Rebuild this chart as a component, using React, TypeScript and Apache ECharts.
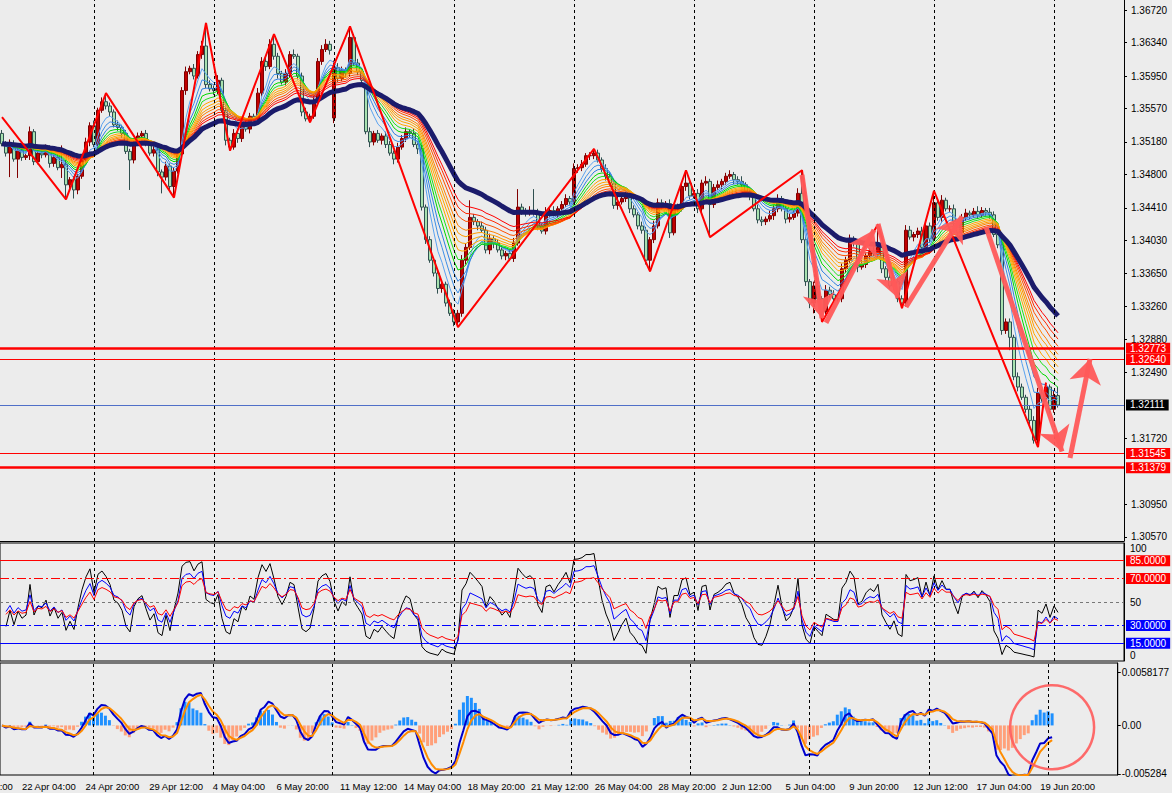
import React, { useEffect, useRef } from 'react';
import * as echarts from 'echarts';

// ---------- DATA (prices in pips above 1.30000) ----------
const BASE = 1.3;
const FIRST_OPEN = 528;
const closes = [
  516, 505, 516, 498, 508, 500, 502, 530, 495, 505, 503, 510, 493, 500, 488, 492, 468, 474, 462, 478,
  497, 518, 537, 515, 555, 565, 560, 553, 538, 535, 528, 507, 497, 517, 525, 528, 517, 505, 509, 483,
  477, 490, 466, 484, 504, 578, 600, 604, 595, 620, 630, 585, 580, 578, 590, 555, 520, 512, 528, 522,
  538, 533, 548, 545, 575, 612, 606, 632, 618, 598, 588, 598, 620, 618, 595, 553, 545, 548, 566, 612,
  626, 632, 625, 605, 592, 602, 598, 640, 610, 600, 590, 530, 518, 528, 520, 525, 515, 505, 498, 512,
  522, 530, 528, 515, 510, 442, 404, 380, 365, 347, 352, 330, 318, 308, 318, 380, 395, 430, 425, 420,
  415, 392, 405, 400, 392, 385, 388, 382, 400, 442, 438, 435, 438, 436, 420, 414, 436, 438, 434, 440,
  445, 452, 448, 487, 488, 492, 502, 502, 505, 497, 487, 478, 470, 444, 448, 452, 455, 440, 433, 420,
  415, 380, 404, 420, 447, 444, 446, 412, 440, 440, 466, 470, 455, 458, 440, 470, 472, 445, 465, 468,
  472, 478, 480, 474, 472, 468, 460, 455, 440, 427, 425, 428, 432, 440, 452, 440, 428, 430, 435, 458,
  404, 355, 330, 350, 335, 320, 345, 340, 335, 335, 370, 380, 405, 400, 372, 375, 385, 390, 388, 395,
  370, 360, 350, 355, 335, 330, 415, 407, 410, 414, 395, 420, 405, 447, 430, 450, 440, 440, 425, 412,
  430, 435, 433, 437, 433, 438, 436, 433, 410, 398, 298, 308, 290, 244, 232, 220, 206, 193, 170, 225,
  218, 232, 206, 222, 211,
];
const wickUp = [
  4, 3, 5, 4, 3, 4, 2, 6, 3, 4, 3, 5, 4, 3, 4, 22, 5, 3, 4, 3,
  4, 5, 4, 6, 3, 5, 10, 4, 3, 5, 3, 4, 3, 5, 4, 3, 4, 3, 5, 4,
  3, 5, 3, 4, 5, 4, 6, 3, 5, 4, 6, 27, 5, 4, 6, 3, 4, 3, 5, 4,
  3, 5, 4, 3, 6, 5, 4, 6, 12, 4, 3, 5, 4, 6, 3, 4, 5, 3, 6, 4,
  5, 6, 4, 8, 5, 4, 3, 13, 4, 5, 3, 4, 5, 3, 4, 3, 5, 4, 3, 5,
  4, 5, 3, 6, 4, 5, 3, 4, 3, 5, 4, 3, 4, 5, 4, 6, 5, 20, 4, 3,
  5, 4, 6, 3, 4, 5, 3, 4, 6, 21, 4, 3, 5, 25, 4, 3, 6, 4, 5, 3,
  4, 5, 3, 6, 4, 5, 3, 4, 5, 4, 3, 5, 4, 3, 6, 4, 5, 3, 4, 3,
  5, 4, 3, 6, 5, 4, 3, 5, 4, 6, 5, 15, 4, 3, 5, 4, 6, 3, 4, 5,
  3, 4, 5, 3, 4, 6, 3, 4, 3, 5, 4, 3, 6, 4, 5, 3, 4, 5, 3, 6,
  27, 4, 3, 5, 4, 3, 6, 4, 5, 3, 6, 4, 5, 3, 4, 5, 3, 4, 6, 27,
  4, 3, 5, 4, 3, 4, 6, 5, 3, 4, 5, 6, 4, 14, 5, 6, 3, 4, 5, 3,
  4, 5, 3, 4, 6, 4, 3, 5, 4, 3, 5, 4, 4, 3, 5, 4, 3, 4, 5, 6,
  4, 5, 3, 6, 10,
];
const wickDn = [
  3, 4, 28, 3, 22, 4, 3, 5, 4, 3, 4, 3, 5, 4, 3, 12, 17, 4, 10, 5,
  3, 4, 5, 3, 4, 3, 4, 5, 3, 4, 5, 3, 35, 4, 3, 5, 4, 3, 4, 5,
  19, 4, 5, 13, 3, 4, 5, 3, 4, 3, 5, 4, 3, 5, 4, 3, 6, 4, 3, 5,
  4, 3, 5, 4, 3, 4, 5, 3, 4, 6, 3, 4, 5, 3, 4, 5, 3, 4, 3, 5,
  4, 3, 5, 6, 4, 3, 5, 4, 3, 4, 5, 3, 6, 4, 3, 5, 4, 3, 6, 4,
  3, 4, 5, 3, 6, 4, 5, 3, 4, 6, 5, 4, 3, 5, 6, 4, 5, 3, 4, 5,
  3, 4, 5, 6, 3, 4, 5, 3, 4, 3, 5, 4, 3, 4, 5, 3, 4, 6, 3, 4,
  5, 3, 4, 3, 5, 4, 3, 5, 4, 3, 4, 5, 3, 4, 5, 3, 4, 5, 3, 4,
  4, 5, 13, 4, 3, 5, 4, 6, 3, 4, 3, 5, 4, 3, 5, 4, 3, 38, 4, 3,
  5, 4, 3, 5, 4, 3, 4, 5, 3, 4, 5, 4, 3, 5, 4, 3, 5, 4, 3, 4,
  4, 5, 6, 12, 4, 12, 3, 4, 5, 3, 4, 5, 3, 4, 6, 3, 4, 5, 3, 4,
  5, 4, 3, 5, 4, 6, 4, 3, 5, 4, 3, 4, 5, 3, 4, 5, 3, 4, 5, 4,
  3, 4, 5, 3, 4, 3, 4, 5, 3, 4, 5, 4, 15, 4, 5, 3, 4, 5, 4, 8,
  4, 3, 5, 4, 3,
];
const gapOpens: Record<number, number> = { 83: 546 };

const zigzag: [number, number][] = [
  [0, 547], [16, 451], [26, 575], [43, 453], [51, 657], [57, 508], [68, 644], [77, 541],
  [87, 653], [114, 302], [148, 510], [162, 367], [171, 485], [177, 407], [200, 485],
  [205, 308], [219, 422], [225, 324], [233, 461], [259, 162], [261, 237],
];

const arrows: [number, number][][] = [
  [[200, 1.34795], [205, 1.33125]],
  [[206, 1.3307], [218, 1.34153]],
  [[219, 1.34223], [224, 1.33359]],
  [[226, 1.33254], [240, 1.3431]],
  [[246, 1.34188], [265, 1.31568]],
  [[267, 1.31492], [272, 1.32647]],
];

const levelPrices = [1.32773, 1.3264, 1.32111, 1.31545, 1.31379];
const levelColors = ['#ff0000', '#ff0000', '#4f6fc8', '#ff0000', '#ff0000'];
const levelWidths = [2.5, 1, 1, 1, 2.5];
const levelBoxColors = ['#ff0000', '#ff0000', '#000000', '#ff0000', '#ff0000'];

const priceTicks = [
  1.3672, 1.3634, 1.3595, 1.3557, 1.3518, 1.348, 1.3441, 1.3403, 1.3365,
  1.3326, 1.3288, 1.3249, 1.3172, 1.3095, 1.3057,
];
const timeLabels = [
  '22 Apr 04:00', '24 Apr 20:00', '29 Apr 12:00', '4 May 04:00', '6 May 20:00', '11 May 12:00',
  '14 May 04:00', '18 May 20:00', '21 May 12:00', '26 May 04:00', '28 May 20:00', '2 Jun 12:00',
  '5 Jun 04:00', '9 Jun 20:00', '12 Jun 12:00', '17 Jun 04:00', '19 Jun 20:00',
];
const timeLabelBars = [5, 21, 37, 53, 69, 85, 101, 117, 133, 149, 165, 181, 197, 213, 229, 245, 261];
const separatorBars = [23, 53, 83, 113, 143, 173, 203, 233, 263];
const TOTAL_BARS = 281;

const ribbonPeriods = [5, 7, 9, 11, 13, 15, 17, 19, 21, 24, 27, 30];
const ribbonColors = [
  '#5aa2f0', '#3d8ee6', '#2f80e0', '#00d800', '#1ee01e', '#ffa500',
  '#ffa500', '#ff9a00', '#ff8000', '#ff5000', '#ff2800', '#ff0000',
];
const SLOW_MA = 40;
const rsiPeriods = [5, 9, 14];
const rsiColors = ['#000000', '#0000ff', '#ff0000'];
const macdFast = 4, macdSlow = 10, macdSignalLine = 3, macdHistBase = 9;

// ---------- helpers ----------
const FONT = 'Liberation Sans, Arial, sans-serif';
const px = (p: number) => +(BASE + p / 10000).toFixed(5);

function ema(src: number[], n: number) {
  const a = 2 / (n + 1);
  const out: number[] = [];
  let e = src[0];
  src.forEach((v, i) => {
    e = i === 0 ? v : e + a * (v - e);
    out.push(e);
  });
  return out;
}
function rsi(src: number[], n: number) {
  // Wilder RSI, primed with the mean gain/loss of the first n changes
  let ag = 0, al = 0;
  for (let i = 1; i <= n; i++) {
    const d = src[i] - src[i - 1];
    if (d > 0) ag += d; else al -= d;
  }
  ag /= n; al /= n;
  const out: (number | null)[] = [null];
  for (let i = 1; i < src.length; i++) {
    const d = src[i] - src[i - 1];
    const g = d > 0 ? d : 0, l = d < 0 ? -d : 0;
    ag = (ag * (n - 1) + g) / n;
    al = (al * (n - 1) + l) / n;
    out.push(al === 0 ? 100 : 100 - 100 / (1 + ag / al));
  }
  return out;
}

function buildOption() {
  const opens = closes.map((c, i) => (i === 0 ? FIRST_OPEN : gapOpens[i] ?? closes[i - 1]));
  const candles = closes.map((c, i) => {
    const o = opens[i];
    return [px(o), px(c), px(Math.min(o, c) - (wickDn[i] ?? 0)), px(Math.max(o, c) + (wickUp[i] ?? 0))];
  });
  const closePrices = closes.map(px);
  const categories = Array.from({ length: TOTAL_BARS }, (_, i) => {
    const k = timeLabelBars.indexOf(i);
    return k >= 0 ? timeLabels[k] : String(i);
  });

  const e1 = ema(closePrices, macdFast);
  const e2 = ema(closePrices, macdSlow);
  const macd = e1.map((v, i) => v - e2[i]);
  const sig = ema(macd, macdSignalLine);
  const base = ema(macd, macdHistBase);
  const hist = macd.map((v, i) => v - base[i]);

  const sepItems = () =>
    separatorBars.map((b) => ({ xAxis: b, label: { show: false }, lineStyle: { color: '#000', type: [3, 3], width: 1 } }));

  const grids = [
    { left: 0, right: 48, top: 0, height: 541 },
    { left: 0, right: 48, top: 543, height: 118, show: true, borderColor: '#000', borderWidth: 1, backgroundColor: 'transparent' },
    { left: 0, right: 48, top: 663, height: 112, show: true, borderColor: '#000', borderWidth: 1, backgroundColor: 'transparent' },
  ];

  const xAxes = [0, 1, 2].map((g) => ({
    type: 'category',
    gridIndex: g,
    data: categories,
    boundaryGap: true,
    axisLine: { show: g === 0, lineStyle: { color: '#000', width: 1 } },
    axisTick: { show: false },
    splitLine: { show: false },
    axisLabel: g === 2
      ? {
          show: true,
          interval: (i: number) => timeLabelBars.indexOf(i) >= 0,
          align: 'left',
          margin: 6,
          fontSize: 9.5,
          fontFamily: FONT,
          color: '#000',
        }
      : { show: false },
  }));

  const labelBase = { fontSize: 10, fontFamily: FONT, color: '#000' };
  const yAxes = [
    {
      type: 'value', gridIndex: 0, position: 'right', min: 1.30523, max: 1.36837,
      axisLine: { show: true, lineStyle: { color: '#000' } },
      axisTick: { show: true, length: 3, customValues: priceTicks, lineStyle: { color: '#000' } },
      splitLine: { show: false },
      axisLabel: { ...labelBase, margin: 7, customValues: priceTicks, formatter: (v: number) => v.toFixed(5) },
    },
    {
      type: 'value', gridIndex: 1, position: 'right', min: 0, max: 100,
      axisLine: { show: true, lineStyle: { color: '#000' } },
      axisTick: { show: false },
      splitLine: { show: false },
      axisLabel: {
        ...labelBase, margin: 6, customValues: [0, 50, 100],
        formatter: (v: number) => (v === 100 ? '{t|100}' : v === 0 ? '{b|0}' : '{m|50}'),
        rich: {
          t: { ...labelBase, padding: [11, 0, 0, 0] },
          b: { ...labelBase, padding: [0, 0, 12, 0] },
          m: { ...labelBase },
        },
      },
    },
    {
      type: 'value', gridIndex: 2, position: 'right', min: -0.0054, max: 0.0068,
      axisLine: { show: true, lineStyle: { color: '#000' } },
      axisTick: { show: true, length: 3, customValues: [-0.005284, 0, 0.0058177], lineStyle: { color: '#000' } },
      splitLine: { show: false },
      axisLabel: {
        ...labelBase, margin: 4, customValues: [-0.005284, 0, 0.0058177],
        formatter: (v: number) => (v === 0 ? '0.00' : String(v)),
      },
    },
  ];

  const boxLabel = (text: string, bg: string) => ({
    show: true, position: 'end', formatter: text, color: '#fff', backgroundColor: bg,
    padding: [1, 4, 0, 4], fontSize: 10, fontFamily: FONT, distance: 2,
  });

  const series: any[] = [];
  series.push({
    type: 'candlestick', xAxisIndex: 0, yAxisIndex: 0, data: candles, barWidth: 3, z: 2,
    itemStyle: { color: '#c00000', color0: '#a8e2b0', borderColor: '#800000', borderColor0: '#2f4f4f', borderWidth: 1 },
    markLine: {
      silent: true,
      precision: 5,
      symbol: ['none', 'none'],
      data: [
        ...sepItems(),
        ...levelPrices.map((p, k) => ({
          yAxis: p,
          lineStyle: { color: levelColors[k], width: levelWidths[k], type: 'solid' },
          label: boxLabel(p.toFixed(5), levelBoxColors[k]),
        })),
      ],
    },
  });
  ribbonPeriods.forEach((p, k) => {
    series.push({
      type: 'line', xAxisIndex: 0, yAxisIndex: 0, data: ema(closePrices, p), symbol: 'none', silent: true, z: 3,
      lineStyle: { color: ribbonColors[k], width: 1 },
    });
  });
  series.push({
    type: 'line', xAxisIndex: 0, yAxisIndex: 0, data: ema(closePrices, SLOW_MA), symbol: 'none', silent: true, z: 4,
    lineStyle: { color: '#1b1b6b', width: 5 },
  });
  series.push({
    type: 'line', xAxisIndex: 0, yAxisIndex: 0, data: zigzag.map(([i, p]) => [i, px(p)]), symbol: 'none', silent: true, z: 5,
    lineStyle: { color: '#ff0000', width: 2 },
  });
  series.push({
    type: 'lines', coordinateSystem: 'cartesian2d', xAxisIndex: 0, yAxisIndex: 0, z: 6, silent: true,
    symbol: ['none', 'arrow'], symbolSize: 24,
    lineStyle: { color: '#ff5a5a', width: 5, opacity: 0.95 },
    data: arrows.map((a) => ({ coords: a })),
  });

  rsiPeriods.forEach((p, k) => {
    const s: any = {
      type: 'line', xAxisIndex: 1, yAxisIndex: 1, data: rsi(closes, p), symbol: 'none', silent: true, z: 3 + k,
      lineStyle: { color: rsiColors[k], width: 1 },
    };
    if (k === 0) {
      s.markLine = {
        silent: true, symbol: ['none', 'none'], precision: 4,
        data: [
          ...sepItems(),
          { yAxis: 85, lineStyle: { color: '#ff0000', type: 'solid', width: 1 }, label: boxLabel('85.0000', '#ff0000') },
          { yAxis: 70, lineStyle: { color: '#ff0000', type: [9, 3, 2, 3], width: 1 }, label: boxLabel('70.0000', '#ff0000') },
          { yAxis: 50, lineStyle: { color: '#777', type: [3, 3], width: 1 }, label: { show: false } },
          { yAxis: 30, lineStyle: { color: '#0000ff', type: [9, 3, 2, 3], width: 1 }, label: boxLabel('30.0000', '#0000ff') },
          { yAxis: 15, lineStyle: { color: '#0000ff', type: 'solid', width: 1 }, label: boxLabel('15.0000', '#0000ff') },
        ],
      };
    }
    series.push(s);
  });

  series.push({
    type: 'bar', xAxisIndex: 2, yAxisIndex: 2, barWidth: 3, silent: true, z: 2,
    data: hist.map((v) => ({ value: v, itemStyle: { color: v >= 0 ? '#1e90ff' : '#ffa07a' } })),
    markLine: { silent: true, symbol: ['none', 'none'], data: sepItems() },
  });
  series.push({
    type: 'line', xAxisIndex: 2, yAxisIndex: 2, data: macd, symbol: 'none', silent: true, z: 3,
    lineStyle: { color: '#0000cd', width: 2 },
  });
  series.push({
    type: 'line', xAxisIndex: 2, yAxisIndex: 2, data: sig, symbol: 'none', silent: true, z: 4,
    lineStyle: { color: '#ff8c00', width: 2 },
  });
  series.push({
    type: 'scatter', xAxisIndex: 2, yAxisIndex: 2, data: [[264, -0.0002]], symbol: 'circle', symbolSize: 84,
    silent: true, z: 6,
    itemStyle: { color: 'rgba(0,0,0,0)', borderColor: '#ff5c5c', borderWidth: 2.5, opacity: 0.9 },
  });

  return {
    animation: false,
    backgroundColor: '#ececec',
    grid: grids,
    xAxis: xAxes,
    yAxis: yAxes,
    series,
    graphic: [
      { type: 'text', x: -41, y: 781, silent: true, style: { text: '19 Apr 12:00', fontSize: 9.5, fontFamily: FONT, fill: '#000' } },
    ],
  };
}

export default function App() {
  const ref = useRef<HTMLDivElement>(null);
  useEffect(() => {
    const chart = echarts.init(ref.current!, null, { renderer: 'svg' });
    chart.setOption(buildOption() as any);
    return () => chart.dispose();
  }, []);
  return <div ref={ref} style={{ position: 'absolute', left: 0, top: 0, width: 1172, height: 793 }} />;
}
